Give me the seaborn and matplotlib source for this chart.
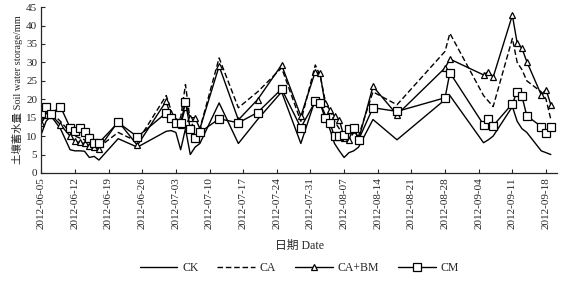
import matplotlib
matplotlib.use("Agg")
import matplotlib.pyplot as plt
import matplotlib.dates as mdates
import seaborn as sns
import pandas as pd

# sampling days counted from 2012-06-05
days = [0, 1, 2, 4, 6, 7, 8, 9, 10, 11, 12, 16, 20, 26, 27, 28, 29, 30, 31, 32,
        33, 37, 41, 45, 50, 54, 57, 58, 59, 60, 61, 62, 63, 64, 65, 66, 69, 74,
        84, 85, 92, 93, 94, 98, 99, 100, 101, 104, 105, 106]

ck = [10.5, 14, 15.5, 12, 6.3, 6, 6, 5.9, 4.2, 4.5, 3.5, 9.3, 7, 11.3, 11.5, 11,
      6.3, 12, 5, 7, 8, 19, 8, 14.5, 22, 8, 19.9, 19, 16, 12, 8, 6, 4.2, 5.5, 6,
      7, 14.5, 9, 19.9, 21, 8.2, 9, 10, 18, 14, 12, 11, 6, 5.5, 5]
ca = [13.5, 16, 16.5, 14, 11, 10, 9.5, 9, 8, 7.5, 7, 11, 8.5, 21, 17, 14, 15, 24,
      14, 12, 12, 31.2, 17.7, 22, 28.5, 14, 29.3, 26.5, 20, 17, 14, 12, 10, 9,
      11, 10, 22, 18.5, 33, 37.9, 21, 19.5, 18, 36.5, 30, 28, 25, 22, 20, 14.5]
ca_bm = [13.5, 15.8, 15.8, 13.1, 10, 8.6, 8.3, 8, 7.3, 7, 6.6, 14, 7.5, 19.5, 15,
         14, 13, 18, 15, 15, 12, 29, 14.4, 19.9, 29.3, 15.4, 27.5, 27, 19, 17.2,
         15.4, 14.5, 9.6, 9, 12.6, 9, 23.5, 15.8, 28.5, 30.9, 26.6, 27.5, 26,
         42.8, 35.2, 33.8, 30.2, 21.2, 22.6, 18.5]
cm = [16.4, 18, 16, 18, 12.3, 11.3, 12.3, 11, 9.6, 8.2, 8.2, 13.7, 9.8, 16.3, 15,
      13.6, 13.5, 19.2, 12, 9.6, 11, 14.7, 13.6, 16.4, 22.8, 12.3, 19.4, 19, 15,
      13.6, 10, 9.9, 10.4, 11.8, 12.3, 9, 17.7, 16.7, 20.4, 27.2, 13.1, 14.7,
      12.8, 18.8, 22.1, 20.8, 15.5, 12.6, 10.9, 12.6]

start = pd.Timestamp("2012-06-05")
dates = start + pd.to_timedelta(days, unit="D")

sns.set_style("ticks")
plt.rcParams["font.family"] = ["Liberation Serif", "Noto Sans CJK SC"]
plt.rcParams["font.size"] = 8

fig = plt.figure(figsize=(5.65, 2.84), dpi=100)
ax = fig.add_axes([0.073, 0.391, 0.913, 0.584])

common = dict(ax=ax, color="black", linewidth=1.0, markerfacecolor="white",
              markeredgecolor="black", markeredgewidth=0.9)
sns.lineplot(x=dates, y=ck, label="CK", **common)
sns.lineplot(x=dates, y=ca, label="CA", linestyle=(0, (4, 2)), **common)
sns.lineplot(x=dates, y=ca_bm, label="CA+BM", marker="^", markersize=5, **common)
sns.lineplot(x=dates, y=cm, label="CM", marker="s", markersize=5.5, **common)

ax.set_xlim(start, start + pd.Timedelta(days=107.3))
ax.set_ylim(0, 45)
ax.set_yticks(range(0, 46, 5))
ax.set_xticks(pd.date_range("2012-06-05", "2012-09-18", freq="7D"))
ax.xaxis.set_major_formatter(mdates.DateFormatter("%Y-%m-%d"))
plt.setp(ax.get_xticklabels(), rotation=90)
ax.tick_params(direction="in", length=3, width=0.8, labelsize=8, pad=3)
sns.despine(ax=ax)
for s in ["left", "bottom"]:
    ax.spines[s].set_linewidth(0.9)

ax.set_xlabel("日期 Date", fontsize=8.5, labelpad=8)
ax.set_ylabel("土壤蓄水量 Soil water storage/mm", fontsize=7.5, labelpad=2)

ax.legend(loc="center", bbox_to_anchor=(0.5, -0.575), ncol=4, frameon=False,
          fontsize=8.5, handlelength=3.2, columnspacing=1.6, handletextpad=0.4)

fig.savefig("out.png", dpi=100)
